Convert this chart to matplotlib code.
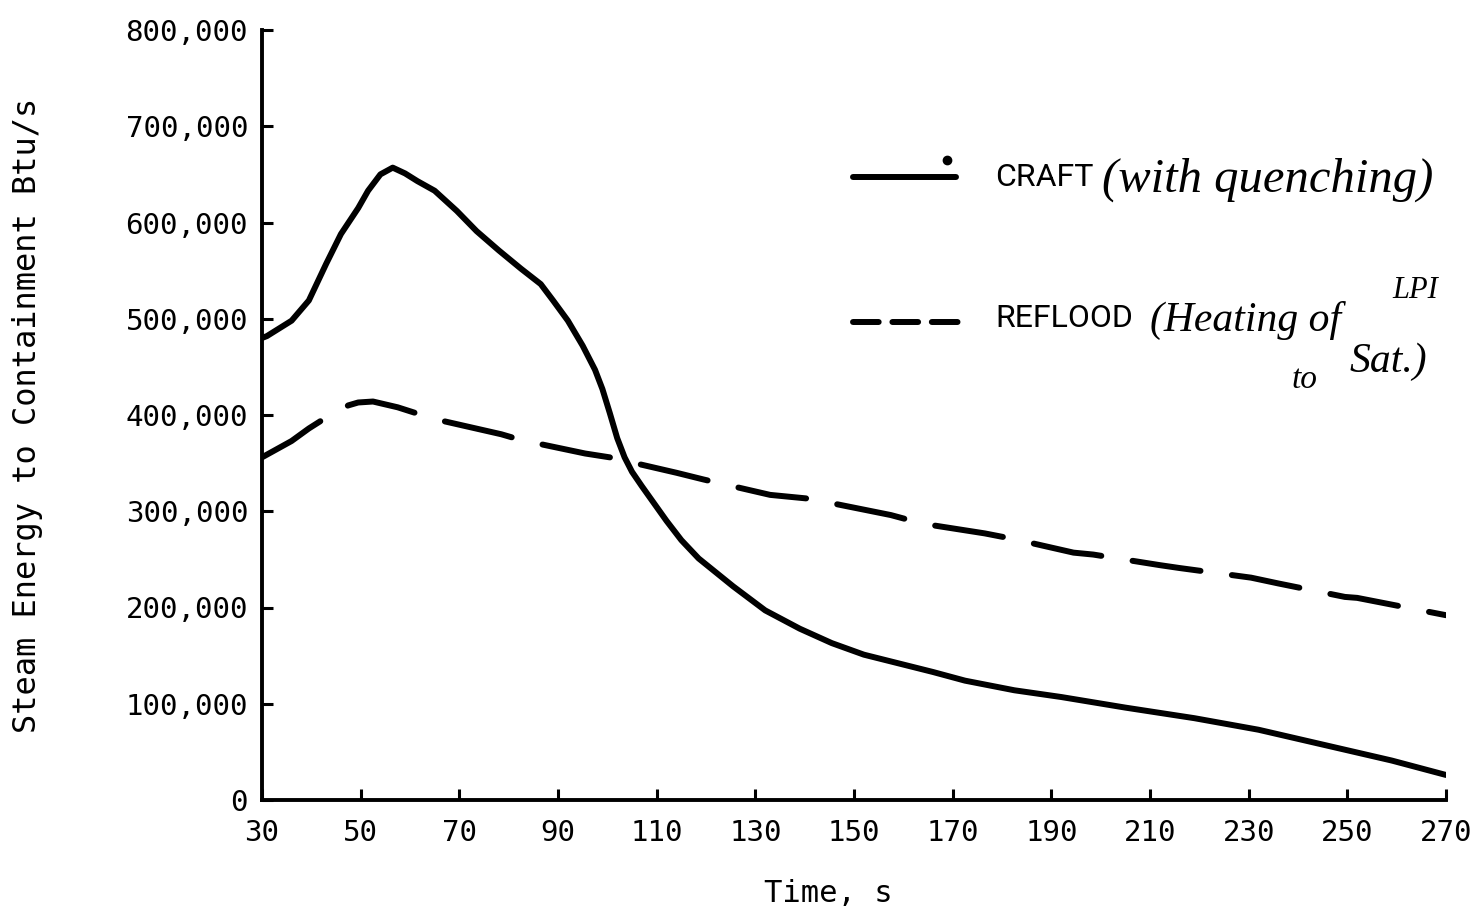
"""Steam energy to containment: CRAFT vs REFLOOD."""

import matplotlib
matplotlib.use("Agg")
import matplotlib.pyplot as plt
from matplotlib.lines import Line2D
from matplotlib.ticker import FuncFormatter

# time, s
craft_t = [30, 31, 36, 39.5, 43, 46, 49.5, 51.5, 54, 56.5, 59, 61.5, 65,
           69.5, 73.5, 78, 82.5, 86.5, 89, 92, 95, 97.5, 99, 100.5, 102,
           103.5, 105, 107, 109.5, 112, 115, 118.5, 125.5, 132, 139, 145.5,
           152, 159, 166, 172.5, 182.5, 192, 205, 219, 232, 245.5, 259, 270]
# Btu/s
craft_q = [480e3, 482e3, 498e3, 519e3, 557e3, 588e3, 615e3, 633e3, 650e3,
           657e3, 651e3, 643e3, 633e3, 612e3, 591e3, 571e3, 552e3, 536e3,
           519e3, 498e3, 472e3, 447e3, 427e3, 402e3, 376e3, 356e3, 341e3,
           326e3, 308e3, 290e3, 270e3, 251e3, 222e3, 197e3, 178e3, 163e3,
           151e3, 142e3, 133e3, 124e3, 114e3, 107e3, 96e3, 85e3, 73e3, 57e3,
           41e3, 26e3]

reflood_t = [30, 36, 39.5, 43.5, 47.5, 49.5, 52.5, 57.5, 63, 66.5, 78.5,
             82.5, 95.5, 100.5, 114, 119.5, 133, 141, 157.5, 164, 176.5,
             182.5, 194.5, 198.5, 212, 216, 230.5, 236, 249.5, 252, 270]
reflood_q = [356e3, 373e3, 386e3, 399e3, 410e3, 413e3, 414e3, 408e3, 399e3,
             394e3, 380e3, 374e3, 360e3, 356e3, 340e3, 333e3, 317e3, 313e3,
             296e3, 287e3, 277e3, 271e3, 257e3, 255e3, 244e3, 241e3, 231e3,
             225e3, 211e3, 210e3, 192e3]

x_ticks = list(range(30, 271, 20))
y_ticks = list(range(0, 800001, 100000))

W, H = 1478, 914
fig = plt.figure(figsize=(W / 100, H / 100), dpi=100)
ax = fig.add_axes([262 / W, 1 - 800 / H, (1446 - 262) / W, (800 - 30) / H])

ax.plot(craft_t, craft_q, color="black", lw=4.3, solid_capstyle="round",
        solid_joinstyle="round")
ax.plot(reflood_t, reflood_q, color="black", lw=4.3,
        linestyle=(0, (11.5, 5.3)), dash_capstyle="round",
        dash_joinstyle="round")

ax.set_xlim(30, 270)
ax.set_ylim(0, 800000)
ax.set_xticks(x_ticks)
ax.set_yticks(y_ticks)
ax.yaxis.set_major_formatter(FuncFormatter(lambda v, p: f"{int(v):,}"))

for s in ("top", "right"):
    ax.spines[s].set_visible(False)
for s in ("left", "bottom"):
    ax.spines[s].set_linewidth(2.8)

mono = "DejaVu Sans Mono"
ax.tick_params(axis="both", direction="in", length=8, width=2.2,
               labelsize=21)
ax.tick_params(axis="y", pad=10)
ax.tick_params(axis="x", pad=14)
for lab in ax.get_xticklabels() + ax.get_yticklabels():
    lab.set_fontfamily(mono)

fig.text(828 / W, 1 - 893 / H, "Time, s", family=mono, fontsize=22,
         ha="center", va="center")
fig.text(28 / W, 1 - 415 / H, "Steam Energy to Containment Btu/s",
         family=mono, fontsize=23, rotation=90, ha="center", va="center")

# legend drawn by hand, as in the original
fig.add_artist(Line2D([853 / W, 956 / W], [1 - 177 / H] * 2, color="black",
                      lw=4.3, solid_capstyle="round"))
fig.add_artist(Line2D([947 / W], [1 - 160 / H], marker="o", ms=6,
                      color="black", lw=0))
fig.add_artist(Line2D([853 / W, 962 / W], [1 - 322 / H] * 2, color="black",
                      lw=4.3, linestyle=(0, (4.3, 2.3)),
                      dash_capstyle="round"))

fig.text(995 / W, 1 - 177 / H, "CRAFT", family="Roboto", fontsize=23,
         ha="left", va="center")
fig.text(995 / W, 1 - 318 / H, "REFLOOD", family="Roboto", fontsize=23,
         ha="left", va="center")

hand = dict(family="Liberation Serif", style="italic", color="black")
fig.text(1102 / W, 1 - 180 / H, "(with quenching)", fontsize=35,
         ha="left", va="center", **hand)
fig.text(1150 / W, 1 - 320 / H, "(Heating of", fontsize=30,
         ha="left", va="center", **hand)
fig.text(1392 / W, 1 - 290 / H, "LPI", fontsize=22, ha="left",
         va="center", **hand)
fig.text(1292 / W, 1 - 380 / H, "to", fontsize=24, ha="left",
         va="center", **hand)
fig.text(1350 / W, 1 - 362 / H, "Sat.)", fontsize=30, ha="left",
         va="center", **hand)

fig.savefig("out.png", dpi=100, facecolor="white")
